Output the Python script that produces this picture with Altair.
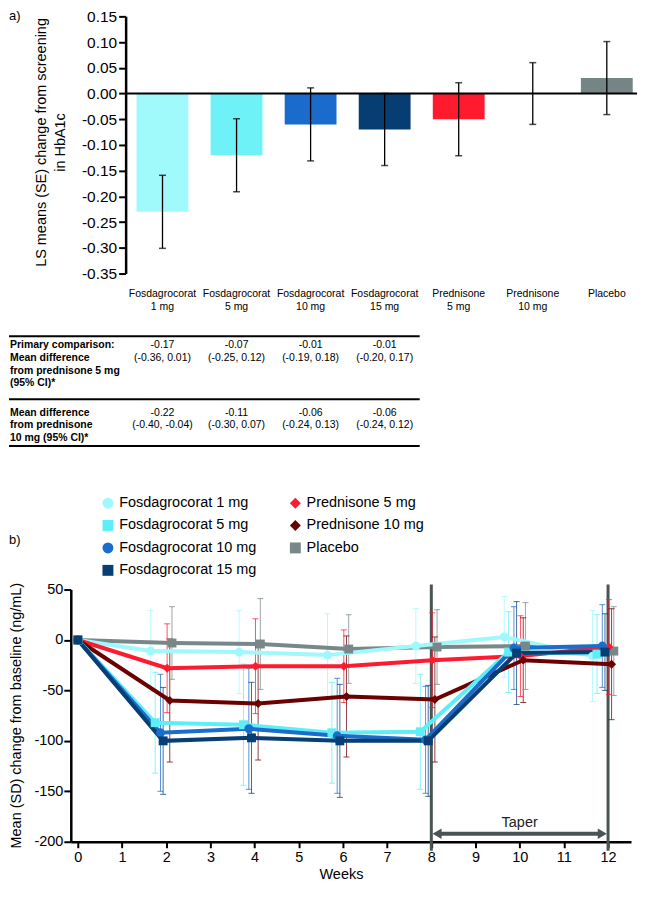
import altair as alt
import pandas as pd

FONT = "Liberation Sans"

# ---------------- Panel a: LS mean change in HbA1c ----------------
categories = ["Fosdagrocorat 1 mg", "Fosdagrocorat 5 mg", "Fosdagrocorat 10 mg",
              "Fosdagrocorat 15 mg", "Prednisone 5 mg", "Prednisone 10 mg", "Placebo"]
ls_means = [-0.23, -0.12, -0.06, -0.07, -0.05, 0.0, 0.03]
ls_se = [0.071, 0.071, 0.071, 0.070, 0.071, 0.060, 0.071]
bar_colors = ["#a0fafc", "#6ef2f8", "#1a6bcc", "#063e73", "#ff1a2e", "#6b0000", "#758585"]
y_ticks_a = [-0.35, -0.30, -0.25, -0.20, -0.15, -0.10, -0.05, 0.0, 0.05, 0.10, 0.15]

table_categories = categories[:4]
primary_diff = ["-0.17", "-0.07", "-0.01", "-0.01"]
primary_ci = ["(-0.36, 0.01)", "(-0.25, 0.12)", "(-0.19, 0.18)", "(-0.20, 0.17)"]
second_diff = ["-0.22", "-0.11", "-0.06", "-0.06"]
second_ci = ["(-0.40, -0.04)", "(-0.30, 0.07)", "(-0.24, 0.13)", "(-0.24, 0.12)"]
row1_label = "Primary comparison:\nMean difference\nfrom prednisone 5 mg\n(95% CI)*"
row2_label = "Mean difference\nfrom prednisone\n10 mg (95% CI)*"

# ---------------- Panel b: mean (SD) change from baseline ----------------
weeks = [0, 2, 4, 6, 8, 10, 12]
series = ["Fosdagrocorat 1 mg", "Fosdagrocorat 5 mg", "Fosdagrocorat 10 mg",
          "Fosdagrocorat 15 mg", "Prednisone 5 mg", "Prednisone 10 mg", "Placebo"]
means = [
    [0, -11, -12, -15, -6, 3, -16],        # Fosdagrocorat 1 mg
    [0, -82, -84, -92, -91, -12, -14],     # Fosdagrocorat 5 mg
    [0, -92, -88, -95, -99, -8, -6],       # Fosdagrocorat 10 mg
    [0, -100, -97, -100, -100, -13, -12],  # Fosdagrocorat 15 mg
    [0, -28, -26, -26, -20, -16, -7],      # Prednisone 5 mg
    [0, -60, -63, -56, -59, -20, -24],     # Prednisone 10 mg
    [0, -3, -4, -9, -7, -6, -11],          # Placebo
]
sds = [
    [0, 40, 41, 41, 37, 40, 45],
    [0, 50, 60, 50, 57, 40, 39],
    [0, 58, 60, 57, 53, 41, 41],
    [0, 53, 55, 56, 55, 51, 38],
    [0, 44, 47, 36, 47, 40, 47],
    [0, 61, 56, 60, 62, 42, 55],
    [0, 36, 45, 34, 37, 43, 44],
]
series_colors = ["#9ff8fb", "#5eeff6", "#1b6dcd", "#073e73", "#ff1a2e", "#6b0000", "#788888"]
series_shapes = ["circle", "square", "circle", "square", "diamond", "diamond", "square"]
series_dodge = [-0.35, -0.25, -0.13, -0.07, 0.02, 0.08, 0.13]
draw_order = [6, 0, 4, 5, 1, 2, 3]
taper_weeks = [8, 12]

# ================= Panel a chart =================
W1, H1 = 568, 258
df_a = pd.DataFrame({"cat": categories, "mean": ls_means, "se": ls_se})
df_a["lo"] = df_a["mean"] - df_a["se"]
df_a["hi"] = df_a["mean"] + df_a["se"]

label_split = ("indexof(datum.label, ' ') > 0 ? [slice(datum.label, 0, indexof(datum.label, ' ')), "
               "slice(datum.label, indexof(datum.label, ' ') + 1)] : datum.label")
xa = alt.X("cat:N", sort=categories,
           scale=alt.Scale(domain=categories, paddingInner=0.3, paddingOuter=0.473, align=0.939),
           axis=alt.Axis(title=None, domain=False, ticks=False, labelAngle=0, labelFontSize=10.5,
                         labelPadding=15, labelLineHeight=13, labelColor="black",
                         labelExpr=label_split))
axis_a = alt.Axis(values=y_ticks_a, grid=False, tickSize=7, tickWidth=2, domainWidth=2.5,
                  domainColor="black", tickColor="black", labelColor="black",
                  labelFontSize=15.5, labelPadding=2, offset=-55,
                  labelExpr="replace(format(datum.value, '.2f'), '\u2212', '-')",
                  title=["LS means (SE) change from screening", "in HbA1c"],
                  titleFontSize=14.5, titleFontWeight="normal", titleColor="black",
                  titleX=-77, titleY=126, titleLineHeight=19)
scale_ya = alt.Scale(domain=[-0.35, 0.15], nice=False, zero=False)


def Ya(field):
    return alt.Y(field, scale=scale_ya, axis=axis_a)


base_a = alt.Chart(df_a)
bars = base_a.mark_bar().encode(
    x=xa, y=Ya("mean:Q"),
    color=alt.Color("cat:N", scale=alt.Scale(domain=categories, range=bar_colors), legend=None))
zero_rule = alt.Chart(pd.DataFrame({"z": [0.0]})).mark_rule(color="black", strokeWidth=2).encode(
    y=Ya("z:Q"), x=alt.value(55), x2=alt.value(W1))
err_a = base_a.mark_rule(color="black", strokeWidth=1.3).encode(x=xa, y=Ya("lo:Q"), y2="hi:Q")
cap_lo_a = base_a.mark_tick(orient="horizontal", size=7, thickness=1.5, color="black").encode(
    x=xa, y=Ya("lo:Q"))
cap_hi_a = base_a.mark_tick(orient="horizontal", size=7, thickness=1.5, color="black").encode(
    x=xa, y=Ya("hi:Q"))

one = pd.DataFrame({"k": [0]})
tag_a = alt.Chart(one).mark_text(align="left", baseline="top", fontSize=13, color="black").encode(
    x=alt.value(-62), y=alt.value(-6), text=alt.value("a)"))

table_rules = [
    alt.Chart(one).mark_rule(color="black", strokeWidth=2).encode(
        x=alt.value(-62), x2=alt.value(350), y=alt.value(yy))
    for yy in (321, 384, 431)
]
row1 = alt.Chart(pd.DataFrame({"t": [row1_label]})).mark_text(
    align="left", baseline="middle", fontWeight="bold", fontSize=10.5, lineBreak="\n",
    lineHeight=12.7, color="black").encode(x=alt.value(-61), y=alt.value(330), text="t:N")
row2 = alt.Chart(pd.DataFrame({"t": [row2_label]})).mark_text(
    align="left", baseline="middle", fontWeight="bold", fontSize=10.5, lineBreak="\n",
    lineHeight=12.7, color="black").encode(x=alt.value(-61), y=alt.value(397.5), text="t:N")
df_t1 = pd.DataFrame({"cat": table_categories,
                      "t": [d + "\n" + c for d, c in zip(primary_diff, primary_ci)]})
df_t2 = pd.DataFrame({"cat": table_categories,
                      "t": [d + "\n" + c for d, c in zip(second_diff, second_ci)]})
vals1 = alt.Chart(df_t1).mark_text(fontSize=10.5, lineBreak="\n", lineHeight=12.7,
                                   baseline="middle", color="black").encode(
    x=xa, y=alt.value(330), text="t:N")
vals2 = alt.Chart(df_t2).mark_text(fontSize=10.5, lineBreak="\n", lineHeight=12.7,
                                   baseline="middle", color="black").encode(
    x=xa, y=alt.value(397.5), text="t:N")

panel_a = alt.layer(bars, zero_rule, err_a, cap_lo_a, cap_hi_a, tag_a, *table_rules,
                    row1, row2, vals1, vals2).properties(width=W1, height=H1)

# ================= Panel b chart =================
W2, H2 = 562, 253
rows = []
for si in draw_order:
    for wi, w in enumerate(weeks):
        m = means[si][wi]
        s = sds[si][wi]
        rows.append({
            "series": series[si],
            "col": series_colors[si],
            "week": w,
            "x": w + (series_dodge[si] if w > 0 else 0.0),
            "mean": m, "sd": s, "lo": m - s, "hi": m + s,
        })
df_b = pd.DataFrame(rows)

axis_bx = alt.Axis(values=list(range(13)), grid=False, tickSize=6, tickWidth=2, domainWidth=2.5,
                   domainColor="black", tickColor="black", labelColor="black",
                   labelFontSize=14.5, labelPadding=3, title="Weeks", titleFontSize=14.5,
                   titleFontWeight="normal", titleColor="black", titlePadding=3, titleX=271)
axis_by = alt.Axis(values=[-200, -150, -100, -50, 0, 50], grid=False, tickSize=7, tickWidth=2,
                   domainWidth=2.5, domainColor="black", tickColor="black", labelColor="black",
                   labelFontSize=14.5, labelPadding=1,
                   labelExpr="replace(format(datum.value, 'd'), '\u2212', '-')",
                   title="Mean (SD) change from baseline (ng/mL)", titleFontSize=14.5,
                   titleFontWeight="normal", titleColor="black", titleX=-47, titleY=126)
scale_bx = alt.Scale(domain=[-0.16, 12.52], nice=False, zero=False)
scale_by = alt.Scale(domain=[-200, 50], nice=False, zero=False)


def Xb(field):
    return alt.X(field, scale=scale_bx, axis=axis_bx)


def Yb(field):
    return alt.Y(field, scale=scale_by, axis=axis_by)


base_b = alt.Chart(df_b)
df_taper = pd.DataFrame({"w": taper_weeks, "top": [55, 55], "bot": [-209, -209]})
vlines = alt.Chart(df_taper).mark_rule(color="#4b5454", strokeWidth=3).encode(
    x=Xb("w:Q"), y=Yb("top:Q"), y2="bot:Q")
df_arrow = pd.DataFrame({"x1": [taper_weeks[0] + 0.15], "x2": [taper_weeks[1] - 0.15], "y": [-192]})
arrow_line = alt.Chart(df_arrow).mark_rule(color="#4b5454", strokeWidth=4).encode(
    x=Xb("x1:Q"), x2="x2:Q", y=Yb("y:Q"))
head_l = alt.Chart(pd.DataFrame({"x": [taper_weeks[0] + 0.13], "y": [-192]})).mark_point(
    filled=True, size=110, color="#4b5454", opacity=1, shape="triangle-left").encode(
    x=Xb("x:Q"), y=Yb("y:Q"))
head_r = alt.Chart(pd.DataFrame({"x": [taper_weeks[1] - 0.13], "y": [-192]})).mark_point(
    filled=True, size=110, color="#4b5454", opacity=1, shape="triangle-right").encode(
    x=Xb("x:Q"), y=Yb("y:Q"))
taper_text = alt.Chart(pd.DataFrame({"x": [10], "y": [-181], "t": ["Taper"]})).mark_text(
    fontSize=14.5, color="#222222", baseline="middle").encode(x=Xb("x:Q"), y=Yb("y:Q"), text="t:N")

base_err = base_b.transform_filter("datum.sd > 0")
err_b = base_err.mark_rule(strokeWidth=1, strokeOpacity=0.75).encode(
    x=Xb("x:Q"), y=Yb("lo:Q"), y2="hi:Q", stroke=alt.Stroke("col:N", scale=None))
cap_lo_b = base_err.mark_rule(strokeWidth=1, strokeOpacity=0.75).encode(
    x=Xb("xl:Q"), x2="xr:Q", y=Yb("lo:Q"), stroke=alt.Stroke("col:N", scale=None)
).transform_calculate(xl="datum.x - 0.068", xr="datum.x + 0.068")
cap_hi_b = base_err.mark_rule(strokeWidth=1, strokeOpacity=0.75).encode(
    x=Xb("xl:Q"), x2="xr:Q", y=Yb("hi:Q"), stroke=alt.Stroke("col:N", scale=None)
).transform_calculate(xl="datum.x - 0.068", xr="datum.x + 0.068")
lines = base_b.mark_line(strokeWidth=4).encode(
    x=Xb("x:Q"), y=Yb("mean:Q"), stroke=alt.Stroke("col:N", scale=None),
    detail="series:N", order="week:Q")

leg = alt.Legend(title=None, orient="none", legendX=30, legendY=-94, columns=2, columnPadding=31,
                 rowPadding=7.5, labelFontSize=14.5, labelOffset=4, symbolSize=120,
                 symbolStrokeWidth=0, labelColor="black", labelLimit=300, padding=0)
points = base_b.mark_point(filled=True, size=80, opacity=1).encode(
    x=Xb("x:Q"), y=Yb("mean:Q"),
    color=alt.Color("series:N", scale=alt.Scale(domain=series, range=series_colors), legend=leg),
    shape=alt.Shape("series:N", scale=alt.Scale(domain=series, range=series_shapes), legend=leg))
tag_b = alt.Chart(one).mark_text(align="left", baseline="middle", fontSize=13, color="black").encode(
    x=alt.value(-62), y=alt.value(-50), text=alt.value("b)"))

panel_b = alt.layer(vlines, arrow_line, head_l, head_r, taper_text, err_b, cap_lo_b, cap_hi_b,
                    lines, points, tag_b).properties(width=W2, height=H2)

chart = alt.vconcat(panel_a, panel_b, spacing=49).resolve_scale(
    color="independent", shape="independent").properties(padding=0).configure(
    font=FONT).configure_view(stroke=None)

chart.save("out.html", embed_options={"renderer": "svg", "actions": False})
